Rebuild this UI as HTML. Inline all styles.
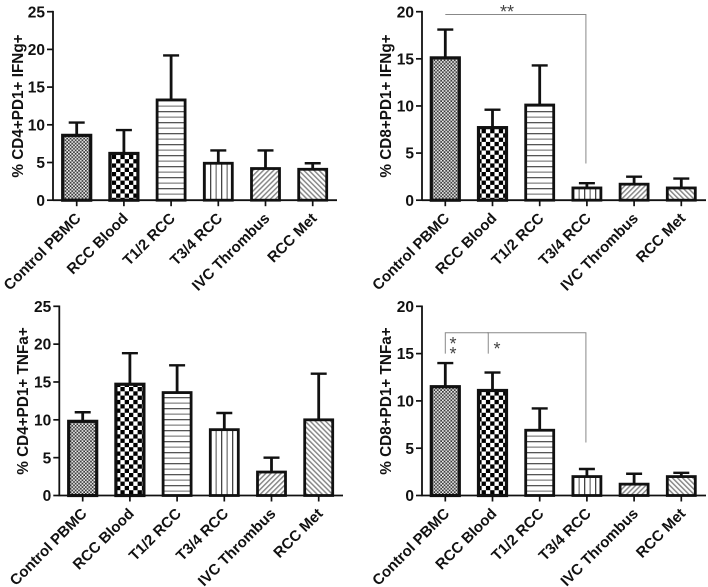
<!DOCTYPE html>
<html>
<head>
<meta charset="utf-8">
<style>
html,body{margin:0;padding:0;background:#fff}
svg{display:block;filter:blur(0.35px)}
text{font-family:"Liberation Sans",sans-serif;font-weight:bold;fill:#111}
</style>
</head>
<body>
<svg id="figure" xmlns="http://www.w3.org/2000/svg" width="708" height="587" viewBox="0 0 708 587">
<defs>
<pattern id="p0" patternUnits="userSpaceOnUse" width="3.4" height="3.4"><rect width="3.4" height="3.4" fill="#eee"/><rect width="1.7" height="1.7" fill="#333"/><rect x="1.7" y="1.7" width="1.7" height="1.7" fill="#333"/></pattern>
<pattern id="p1" patternUnits="userSpaceOnUse" width="8.6" height="8.6"><rect width="8.6" height="8.6" fill="#fff"/><rect width="4.3" height="4.3" fill="#000"/><rect x="4.3" y="4.3" width="4.3" height="4.3" fill="#000"/></pattern>
<pattern id="p2" patternUnits="userSpaceOnUse" width="11" height="11"><rect width="11" height="11" fill="#fff"/><rect y="1" width="11" height="1.3" fill="#555"/><rect y="6.5" width="11" height="1.3" fill="#888"/></pattern>
<pattern id="p3" patternUnits="userSpaceOnUse" width="11" height="11"><rect width="11" height="11" fill="#fff"/><rect x="1" width="1.3" height="11" fill="#444"/><rect x="6.5" width="1.3" height="11" fill="#777"/></pattern>
<pattern id="p4" patternUnits="userSpaceOnUse" width="3.6" height="3.6" patternTransform="rotate(45)"><rect width="3.6" height="3.6" fill="#fff"/><rect width="1.5" height="3.6" fill="#888"/></pattern>
<pattern id="p5" patternUnits="userSpaceOnUse" width="3.6" height="3.6" patternTransform="rotate(-45)"><rect width="3.6" height="3.6" fill="#fff"/><rect width="1.5" height="3.6" fill="#888"/></pattern>
</defs>
</svg>
<script>
var categories = ["Control PBMC", "RCC Blood", "T1/2 RCC", "T3/4 RCC", "IVC Thrombus", "RCC Met"];

var cd4IfngMeans = [8.6, 6.2, 13.3, 4.9, 4.2, 4.1];
var cd4IfngErrorTops = [10.3, 9.3, 19.2, 6.6, 6.6, 4.9];
var cd8IfngMeans = [15.1, 7.7, 10.1, 1.3, 1.7, 1.3];
var cd8IfngErrorTops = [18.1, 9.6, 14.3, 1.8, 2.5, 2.3];
var cd4TnfaMeans = [9.8, 14.7, 13.6, 8.7, 3.1, 10.0];
var cd4TnfaErrorTops = [11.0, 18.8, 17.2, 10.9, 5.0, 16.1];
var cd8TnfaMeans = [11.5, 11.1, 6.9, 2.0, 1.2, 2.0];
var cd8TnfaErrorTops = [14.0, 13.0, 9.2, 2.8, 2.3, 2.4];

var ticks25 = [0, 5, 10, 15, 20, 25];
var ticks20 = [0, 5, 10, 15, 20];

var NS = "http://www.w3.org/2000/svg";
var fig = document.getElementById("figure");

function mk(tag, attrs, parent) {
  var el = document.createElementNS(NS, tag);
  for (var k in attrs) el.setAttribute(k, attrs[k]);
  parent.appendChild(el);
  return el;
}

function drawPanel(o) {
  var g = mk("g", {}, fig);
  
  
  var max = o.ticks[o.ticks.length - 1];
  function yScale(v) { return o.y0 - (v / max) * (o.y0 - o.yTop); }
  function xScale(i) { return o.x0 + i * o.step; }

  // bars and error bars
  o.means.forEach(function (m, i) {
    var cx = xScale(i), top = yScale(m), errTop = yScale(o.tops[i]);
    var err = mk("line", {x1: cx, x2: cx, y1: top, y2: errTop, stroke: "#111", "stroke-width": 2.8}, g);
    
    
    var cap = mk("line", {x1: cx - 8, x2: cx + 8, y1: errTop, y2: errTop, stroke: "#111", "stroke-width": 2.4}, g);
    
    
    var bar = mk("rect", {x: cx - 14, y: top, width: 28, height: o.y0 - top, fill: "url(#p" + i + ")", stroke: "#111", "stroke-width": i < 2 ? 3.2 : 2.8}, g);
    
    
    var tick = mk("line", {x1: cx, x2: cx, y1: o.y0, y2: o.y0 + 6, stroke: "#111", "stroke-width": 1.7}, g);
    
    
    var ax = cx + 5, ay = o.y0 + 19;
    var lab = mk("text", {x: ax, y: ay, "text-anchor": "end", "font-size": 15, transform: "rotate(-45 " + ax + " " + ay + ")"}, g);
    lab.textContent = categories[i];
    
    
  });

  // axes
  var yAxis = mk("line", {x1: o.axisX, x2: o.axisX, y1: o.yTop - 0.8, y2: o.y0 + 0.8, stroke: "#111", "stroke-width": 1.8}, g);
  
  
  var xAxis = mk("line", {x1: o.axisX, x2: o.xEnd, y1: o.y0, y2: o.y0, stroke: "#111", "stroke-width": 1.8}, g);
  
  

  o.ticks.forEach(function (t) {
    var y = yScale(t);
    var tk = mk("line", {x1: o.axisX - 6, x2: o.axisX, y1: y, y2: y, stroke: "#111", "stroke-width": 1.7}, g);
    
    
    var tl = mk("text", {x: o.axisX - 8, y: y + 5.6, "text-anchor": "end", "font-size": 15.5}, g);
    tl.textContent = t;
    
    
  });

  var tx = o.titleX, ty = o.titleY;
  var title = mk("text", {x: tx, y: ty, "text-anchor": "middle", "font-size": 15.3, transform: "rotate(-90 " + tx + " " + ty + ")"}, g);
  title.textContent = o.title;
  
  

  // significance brackets
  (o.brackets || []).forEach(function (b) {
    var p = mk("polyline", {points: xScale(b.from) + "," + yScale(b.drop) + " " + xScale(b.from) + "," + yScale(b.level) + " " + (xScale(b.to) - 1) + "," + yScale(b.level) + " " + (xScale(b.to) - 1) + "," + yScale(b.dropTo), fill: "none", stroke: "#888", "stroke-width": 1}, g);
    
    
  });
  (o.marks || []).forEach(function (m) {
    var s = mk("text", {x: m.x, y: m.y, "text-anchor": "middle", "font-size": 18, style: "fill:#444;font-weight:normal"}, g);
    s.textContent = m.text;
    
    
  });
  return {xScale: xScale, yScale: yScale, g: g};
}

drawPanel({name: "panel-cd4-ifng", means: cd4IfngMeans, tops: cd4IfngErrorTops, ticks: ticks25, title: "% CD4+PD1+ IFNg+",
  axisX: 53, xEnd: 337, x0: 76.7, step: 47.2, y0: 200.2, yTop: 11.7, titleX: 23, titleY: 106});

drawPanel({name: "panel-cd8-ifng", means: cd8IfngMeans, tops: cd8IfngErrorTops, ticks: ticks20, title: "% CD8+PD1+ IFNg+",
  axisX: 422, xEnd: 706, x0: 445.3, step: 47.2, y0: 200.2, yTop: 11.7, titleX: 391, titleY: 106,
  brackets: [{from: 0, to: 3, level: 19.7, drop: 19.7, dropTo: 3.9}],
  marks: [{x: 507, y: 18, text: "**"}]});

drawPanel({name: "panel-cd4-tnfa", means: cd4TnfaMeans, tops: cd4TnfaErrorTops, ticks: ticks25, title: "% CD4+PD1+ TNFa+",
  axisX: 59.3, xEnd: 343, x0: 82.7, step: 47.2, y0: 495.5, yTop: 306.3, titleX: 28, titleY: 401});

drawPanel({name: "panel-cd8-tnfa", means: cd8TnfaMeans, tops: cd8TnfaErrorTops, ticks: ticks20, title: "% CD8+PD1+ TNFa+",
  axisX: 422, xEnd: 706, x0: 445.3, step: 47.2, y0: 495.5, yTop: 306.3, titleX: 391, titleY: 401,
  brackets: [{from: 0, to: 3, level: 17.2, drop: 15, dropTo: 5.6}, {from: 0.91, to: 0.91, level: 17.2, drop: 15, dropTo: 17.2}],
  marks: [{x: 453, y: 350, text: "*"}, {x: 453, y: 360, text: "*"}, {x: 497, y: 355, text: "*"}]});
</script>
</body>
</html>
